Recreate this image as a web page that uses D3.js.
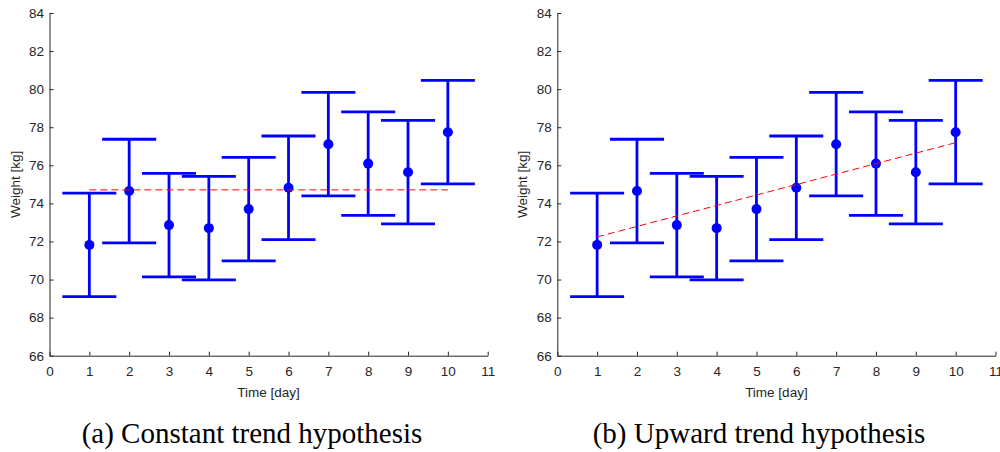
<!DOCTYPE html>
<html>
<head>
<meta charset="utf-8">
<script src="https://cdn.jsdelivr.net/npm/d3@7"></script>
<style>
  body { margin: 0; background: #fff; }
  svg { display: block; }
  .tick text { font-family: "Liberation Sans", Arial, sans-serif; font-size: 13.5px; fill: #262626; }
  .axis-label { font-family: "Liberation Sans", Arial, sans-serif; font-size: 13.5px; fill: #262626; }
  .caption { font-family: "Liberation Serif", "DejaVu Serif", serif; font-size: 29px; fill: #000; }
</style>
</head>
<body>
<script>
"use strict";

const days = [1, 2, 3, 4, 5, 6, 7, 8, 9, 10];
const weights = [71.82, 74.65, 72.86, 72.70, 73.70, 74.82, 77.11, 76.09, 75.64, 77.74];
const errors = [2.72, 2.72, 2.72, 2.72, 2.72, 2.72, 2.72, 2.72, 2.72, 2.72];

// fitted hypothesis lines (value at day 1 and day 10)
const trendDays = [1, 10];
const constantTrend = [74.71, 74.71];
const upwardTrend = [72.24, 77.19];

// tick labels
const xTicks = [0, 1, 2, 3, 4, 5, 6, 7, 8, 9, 10, 11];
const yTicks = [66, 68, 70, 72, 74, 76, 78, 80, 82, 84];

const captions = ["(a) Constant trend hypothesis", "(b) Upward trend hypothesis"];

//Dimensions
const w = 1000;
const h = 452;
const plotTop = 13;
const plotBottom = 355.7;
const plotWidth = 438.2;
const axisColor = "#262626";

const svg = d3.select("body").append("svg").attr("width", w).attr("height", h);

drawPanel(49.5, constantTrend, captions[0], 252);
drawPanel(557.3, upwardTrend, captions[1], 759);

function drawPanel(left, trend, caption, captionX) {
  const x = d3.scaleLinear().domain([0, 11]).range([left, left + plotWidth]);
  const y = d3.scaleLinear().domain([66, 84]).range([plotBottom, plotTop]);

  const g = svg.append("g");

  //axes
  const xAxis = d3.axisBottom(x).tickValues(xTicks).tickSizeInner(-4).tickSizeOuter(0).tickPadding(11);
  const yAxis = d3.axisLeft(y).tickValues(yTicks).tickSizeInner(-4).tickSizeOuter(0).tickPadding(5.5);

  g.append("g")
    .attr("transform", `translate(0, ${plotBottom})`)
    .call(xAxis)
    .call((a) => a.selectAll("path, line").attr("stroke", axisColor))
    .call((a) => a.selectAll(".tick text").attr("dy", "0.71em"));

  g.append("g")
    .attr("transform", `translate(${left}, 0)`)
    .call(yAxis)
    .call((a) => a.selectAll("path, line").attr("stroke", axisColor));

  g.append("text")
    .attr("class", "axis-label")
    .attr("x", x(5.5))
    .attr("y", 397)
    .attr("text-anchor", "middle")
    .text("Time [day]");

  g.append("text")
    .attr("class", "axis-label")
    .attr("transform", `translate(${left - 30}, ${y(75)}) rotate(-90)`)
    .attr("text-anchor", "middle")
    .text("Weight [kg]");

  //error bars
  const capHalf = 27;
  const bars = g.append("g").attr("stroke", "#0000ff").attr("stroke-width", 2.8).attr("fill", "none");
  days.forEach((d, i) => {
    const lo = y(weights[i] - errors[i]);
    const hi = y(weights[i] + errors[i]);
    bars.append("line").attr("x1", x(d)).attr("x2", x(d)).attr("y1", lo).attr("y2", hi);
    bars.append("line").attr("x1", x(d) - capHalf).attr("x2", x(d) + capHalf).attr("y1", lo).attr("y2", lo);
    bars.append("line").attr("x1", x(d) - capHalf).attr("x2", x(d) + capHalf).attr("y1", hi).attr("y2", hi);
  });

  g.selectAll("circle")
    .data(days)
    .enter()
    .append("circle")
    .attr("cx", (d) => x(d))
    .attr("cy", (d, i) => y(weights[i]))
    .attr("r", 5)
    .attr("fill", "#0000ff");

  //hypothesis line
  const line = d3.line().x((d) => x(d[0])).y((d) => y(d[1]));
  g.append("path")
    .datum(trendDays.map((d, i) => [d, trend[i]]))
    .attr("d", line)
    .attr("fill", "none")
    .attr("stroke", "#ff0000")
    .attr("stroke-width", 1)
    .attr("stroke-dasharray", "7,4");

  svg.append("text")
    .attr("class", "caption")
    .attr("x", captionX)
    .attr("y", 443)
    .attr("text-anchor", "middle")
    .text(caption);
}
</script>
</body>
</html>
